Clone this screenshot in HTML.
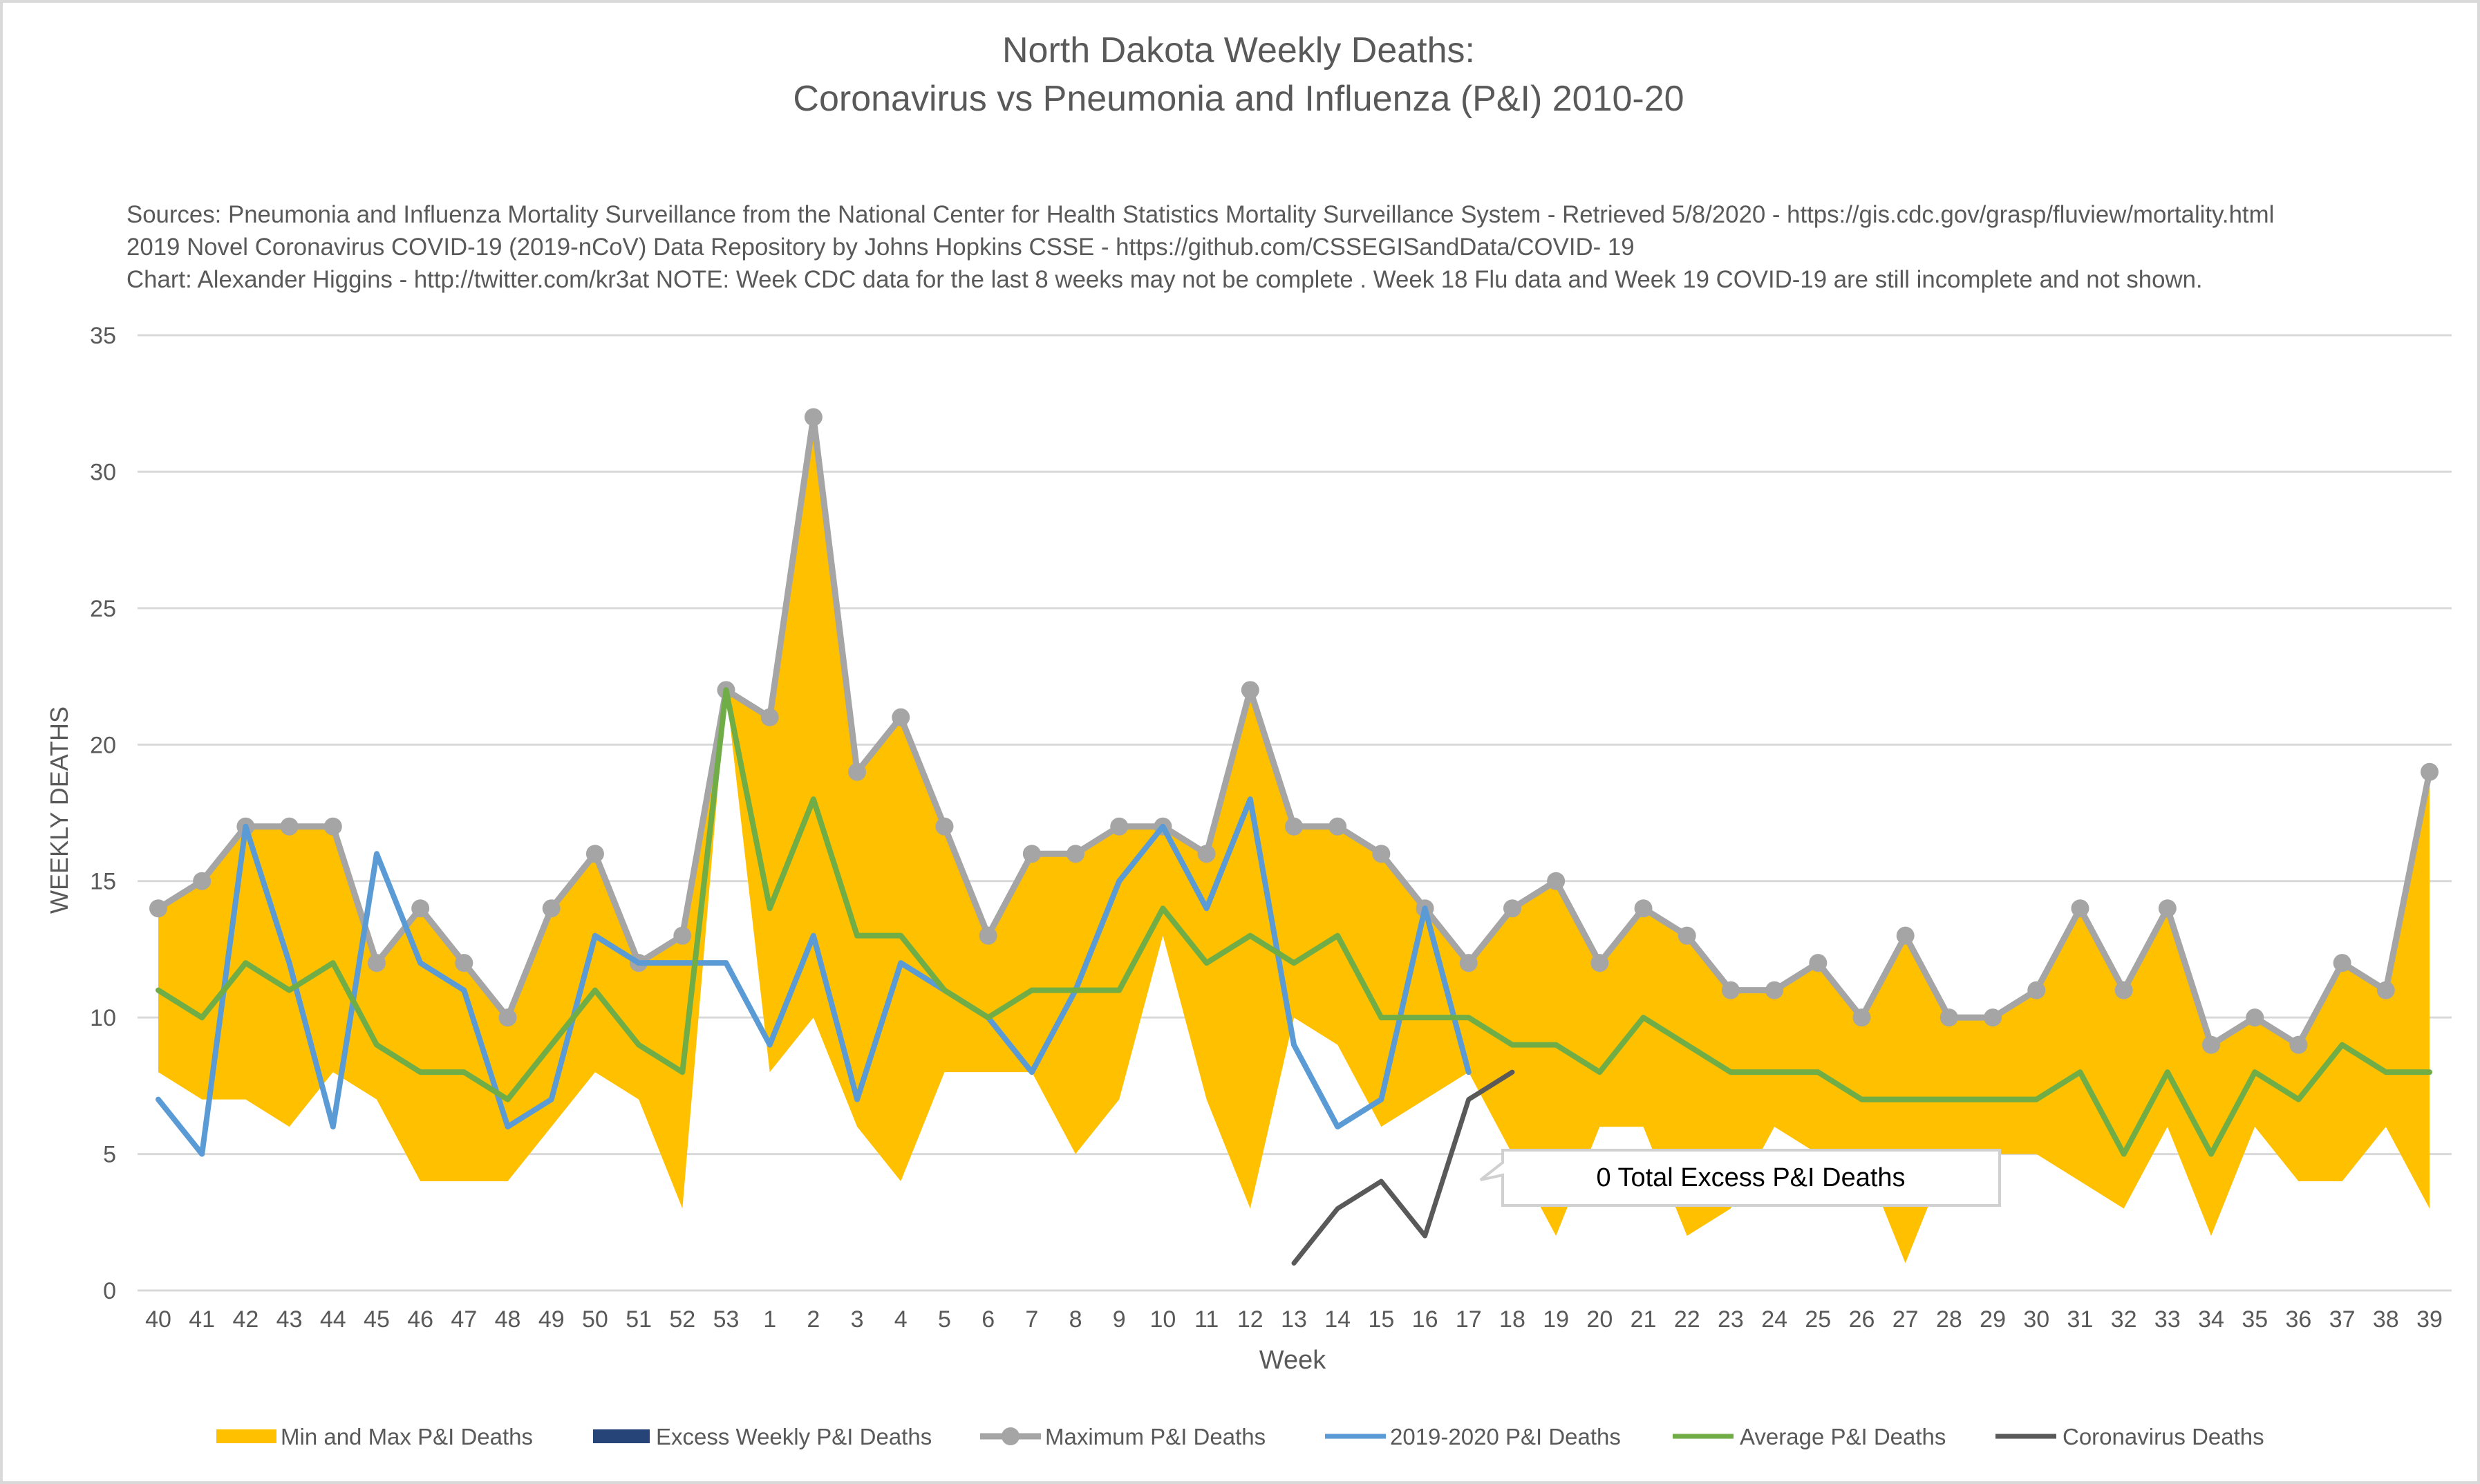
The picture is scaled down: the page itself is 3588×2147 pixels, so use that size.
<!DOCTYPE html>
<html><head><meta charset="utf-8"><style>
html,body{margin:0;padding:0;background:#fff}
svg{display:block;font-family:"Liberation Sans",sans-serif}
</style></head><body>
<svg id="chart" width="3588" height="2147" viewBox="0 0 3588 2147" xmlns="http://www.w3.org/2000/svg">
<rect x="2" y="2" width="3584" height="2143" fill="#fff" stroke="#d9d9d9" stroke-width="4"/>
<text x="1792" y="90" text-anchor="middle" font-size="52" fill="#595959">North Dakota Weekly Deaths:</text>
<text x="1792" y="160" text-anchor="middle" font-size="52" fill="#595959">Coronavirus vs Pneumonia and Influenza (P&amp;I) 2010-20</text>
<g font-size="34.8" fill="#595959">
<text x="183" y="322">Sources: Pneumonia and Influenza Mortality Surveillance from the National Center for Health Statistics Mortality Surveillance System - Retrieved 5/8/2020 - https://gis.cdc.gov/grasp/fluview/mortality.html</text>
<text x="183" y="369">2019 Novel Coronavirus COVID-19 (2019-nCoV) Data Repository by Johns Hopkins CSSE - https://github.com/CSSEGISandData/COVID- 19</text>
<text x="183" y="416">Chart: Alexander Higgins - http://twitter.com/kr3at   NOTE: Week CDC data for the last 8 weeks may not be complete . Week 18 Flu data and Week 19 COVID-19 are still incomplete and not shown.</text>
</g>
<g id="grid"></g>
<g id="plot"></g>
<text transform="translate(98,1172) rotate(-90)" text-anchor="middle" font-size="36" fill="#595959">WEEKLY DEATHS</text>
<text x="1870" y="1980" text-anchor="middle" font-size="38" fill="#595959">Week</text>
<g>
<path d="M2174,1664 L2893,1664 L2893,1744 L2174,1744 L2174,1700 L2142,1707 L2174,1682 Z" fill="#fff" stroke="#d0d0d0" stroke-width="4"/>
<text x="2533" y="1716" text-anchor="middle" font-size="38" fill="#000">0 Total Excess P&amp;I Deaths</text>
</g>
<g font-size="33" fill="#595959">
<g><rect x="313" y="2068" width="87" height="20" fill="#FFC000"/><text x="406" y="2090">Min and Max P&amp;I Deaths</text></g>
<g><rect x="858" y="2068" width="82" height="20" fill="#264478"/><text x="949" y="2090">Excess Weekly P&amp;I Deaths</text></g>
<g><line x1="1418" y1="2078" x2="1506" y2="2078" stroke="#A5A5A5" stroke-width="9"/><circle cx="1462" cy="2078" r="13" fill="#A5A5A5"/><text x="1512" y="2090">Maximum P&amp;I Deaths</text></g>
<g><line x1="1917" y1="2078" x2="2005" y2="2078" stroke="#5B9BD5" stroke-width="7"/><text x="2011" y="2090">2019-2020 P&amp;I Deaths</text></g>
<g><line x1="2420" y1="2078" x2="2508" y2="2078" stroke="#70AD47" stroke-width="7"/><text x="2517" y="2090">Average P&amp;I Deaths</text></g>
<g><line x1="2887" y1="2078" x2="2975" y2="2078" stroke="#595959" stroke-width="7"/><text x="2984" y="2090">Coronavirus Deaths</text></g>
</g>
</svg>
<script>
const weeks = [40,41,42,43,44,45,46,47,48,49,50,51,52,53,1,2,3,4,5,6,7,8,9,10,11,12,13,14,15,16,17,18,19,20,21,22,23,24,25,26,27,28,29,30,31,32,33,34,35,36,37,38,39];
const maxDeaths = [14,15,17,17,17,12,14,12,10,14,16,12,13,22,21,32,19,21,17,13,16,16,17,17,16,22,17,17,16,14,12,14,15,12,14,13,11,11,12,10,13,10,10,11,14,11,14,9,10,9,12,11,19];
const minDeaths = [8,7,7,6,8,7,4,4,4,6,8,7,3,22,8,10,6,4,8,8,8,5,7,13,7,3,10,9,6,7,8,5,2,6,6,2,3,6,5,5,1,5,5,5,4,3,6,2,6,4,4,6,3];
const avgDeaths = [11,10,12,11,12,9,8,8,7,9,11,9,8,22,14,18,13,13,11,10,11,11,11,14,12,13,12,13,10,10,10,9,9,8,10,9,8,8,8,7,7,7,7,7,8,5,8,5,8,7,9,8,8];
const cur2020 = [7,5,17,12,6,16,12,11,6,7,13,12,12,12,9,13,7,12,11,10,8,11,15,17,14,18,9,6,7,14,8];
const covidStart = 26;
const covidDeaths = [1,3,4,2,7,8];
const yTicks = [0,5,10,15,20,25,30,35];

const NS='http://www.w3.org/2000/svg';
const X0=229, X1=3515, Y0=1867, Y35=485;
const xs = i => X0 + i*(X1-X0)/(weeks.length-1);
const ys = v => Y0 - v*(Y0-Y35)/35;
function mk(tag, attrs, parent){const e=document.createElementNS(NS,tag);for(const k in attrs)e.setAttribute(k,attrs[k]);parent.appendChild(e);return e;}
const grid=document.getElementById('grid'), plot=document.getElementById('plot');
yTicks.forEach(t=>{
  const l=mk('line',{x1:199,x2:3547,y1:ys(t),y2:ys(t),stroke:'#d9d9d9','stroke-width':3},grid);
  
  
  const tx=mk('text',{x:168,y:ys(t)+12,'text-anchor':'end','font-size':34,fill:'#595959'},grid);
  tx.textContent=t;
  
  
});
weeks.forEach((w,i)=>{
  const tx=mk('text',{x:xs(i),y:1920,'text-anchor':'middle','font-size':34,fill:'#595959'},grid);
  tx.textContent=w;
  
  
});
let d='M'+maxDeaths.map((v,i)=>xs(i)+','+ys(v)).join(' L');
for(let i=minDeaths.length-1;i>=0;i--) d+=' L'+xs(i)+','+ys(minDeaths[i]);
const band=mk('path',{d:d+' Z',fill:'#FFC000'},plot);


function line(vals,off,color,w,name){
  const p=mk('polyline',{points:vals.map((v,i)=>xs(i+off)+','+ys(v)).join(' '),fill:'none',stroke:color,'stroke-width':w,'stroke-linejoin':'round','stroke-linecap':'round'},plot);
  
  
}
line(maxDeaths,0,'#A5A5A5',9,'maximum-line');
maxDeaths.forEach((v,i)=>{
  const c=mk('circle',{cx:xs(i),cy:ys(v),r:13,fill:'#A5A5A5'},plot);
  
  
});
line(cur2020,0,'#5B9BD5',8,'line-2019-2020');
line(avgDeaths,0,'#70AD47',8,'average-line');
line(covidDeaths,covidStart,'#595959',7,'coronavirus-line');
</script>
</body></html>
